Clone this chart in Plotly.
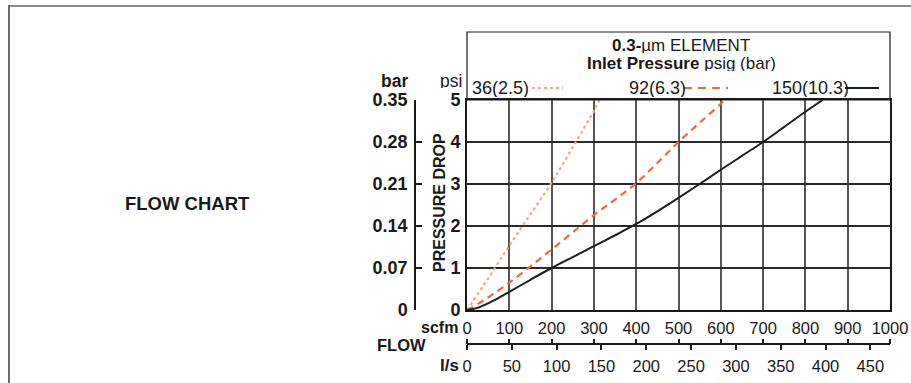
import plotly.graph_objects as go

# ---------------- data ----------------
flow_36 = [0, 50, 100, 150, 200, 250, 300, 313]
dp_36 = [0, 0.75, 1.53, 2.28, 3.03, 3.88, 4.74, 5.0]

flow_92 = [0, 25, 50, 75, 100, 150, 200, 250, 300, 350, 400, 450, 500, 550, 600, 608]
dp_92 = [0, 0.14, 0.30, 0.47, 0.65, 1.04, 1.44, 1.85, 2.26, 2.63, 3.02, 3.50, 4.00, 4.46, 4.91, 5.0]

flow_150 = [0, 25, 50, 75, 100, 150, 200, 250, 300, 350, 400, 450, 500, 550, 600, 650, 700, 750, 800, 841]
dp_150 = [0, 0.05, 0.16, 0.29, 0.43, 0.72, 1.00, 1.26, 1.52, 1.78, 2.05, 2.35, 2.67, 3.00, 3.34, 3.67, 4.00, 4.36, 4.72, 5.0]

series_names = ["36(2.5)", "92(6.3)", "150(10.3)"]

scfm_ticks = [0, 100, 200, 300, 400, 500, 600, 700, 800, 900, 1000]
lps_ticks = [0, 50, 100, 150, 200, 250, 300, 350, 400, 450]
psi_ticks = [0, 1, 2, 3, 4, 5]
bar_ticks = [0, 0.07, 0.14, 0.21, 0.28, 0.35]
bar_labels = ["0", "0.07", "0.14", "0.21", "0.28", "0.35"]

SCFM_PER_LPS = 2.119

# ---------------- layout helpers ----------------
W, H = 911, 383
ML, MR, MT, MB = 380, 21, 100, 30
PW, PH = W - ML - MR, H - MT - MB


def px(x):
    return (x - ML) / PW


def py(y):
    return (H - MB - y) / PH


FONT = "Liberation Sans, Arial, Helvetica, sans-serif"
C36 = "#F5A688"
C92 = "#EE6A3C"
C150 = "#1E1E1E"
TXT = "#1a1a1a"

fig = go.Figure()
fig.add_trace(go.Scatter(x=flow_36, y=dp_36, mode="lines", name=series_names[0],
                         line=dict(color=C36, width=2.2, dash="3px,3px"), line_shape="spline"))
fig.add_trace(go.Scatter(x=flow_92, y=dp_92, mode="lines", name=series_names[1],
                         line=dict(color=C92, width=2.2, dash="7px,5px"), line_shape="spline"))
fig.add_trace(go.Scatter(x=flow_150, y=dp_150, mode="lines", name=series_names[2],
                         line=dict(color=C150, width=2), line_shape="spline"))

xdom = [px(467), 1]
ydom = [py(310), 1]

fig.update_layout(
    width=W, height=H, autosize=False,
    margin=dict(l=ML, r=MR, t=MT, b=MB, pad=0, autoexpand=False),
    paper_bgcolor="white", plot_bgcolor="white",
    showlegend=False, hovermode=False,
    font=dict(family=FONT, size=16, color=TXT),
    xaxis=dict(domain=xdom, range=[0, 1000], tickvals=scfm_ticks, showgrid=True,
               gridcolor="#555555", gridwidth=1.5, zeroline=False, showline=True,
               linecolor=TXT, linewidth=2, mirror=True, ticks="", automargin=False,
               ticklabelstandoff=2, tickfont=dict(size=16.5), anchor="y"),
    yaxis=dict(domain=ydom, range=[0, 5], tickvals=psi_ticks,
               ticktext=[f"<b>{t}</b>" for t in psi_ticks], showgrid=True,
               gridcolor="#2a2a2a", gridwidth=1.5, zeroline=False, showline=True,
               linecolor=TXT, linewidth=2, mirror=True, ticks="", automargin=False,
               ticklabelstandoff=1, tickfont=dict(size=18), anchor="x"),
    yaxis2=dict(domain=ydom, range=[0, 0.35], tickvals=bar_ticks, ticktext=[f"<b>{t}</b>" for t in bar_labels],
                overlaying="y", anchor="free", position=px(415), side="left", automargin=False,
                showline=True, linecolor=TXT, linewidth=1.5, ticks="inside",
                ticklen=6, tickwidth=1.5, tickcolor=TXT, showgrid=False, zeroline=False,
                ticklabelstandoff=3, tickfont=dict(size=18)),
    xaxis2=dict(domain=xdom, range=[0, 1000 / SCFM_PER_LPS], tickvals=lps_ticks,
                overlaying="x", anchor="free", position=py(344), side="bottom", automargin=False,
                showline=True, linecolor=TXT, linewidth=2, ticks="outside",
                ticklen=5, tickwidth=1.5, tickcolor=TXT, showgrid=False, zeroline=False,
                ticklabelstandoff=2, tickfont=dict(size=16.5)),
    xaxis3=dict(domain=xdom, range=[0, 1000], tickvals=scfm_ticks,
                overlaying="x", anchor="free", position=py(344), side="top", automargin=False,
                showline=False, ticks="outside", ticklen=5, tickwidth=1.5,
                tickcolor=TXT, showticklabels=False, showgrid=False, zeroline=False),
)

# invisible traces to activate the extra axes
fig.add_trace(go.Scatter(x=[None], y=[None], xaxis="x2", yaxis="y2", showlegend=False))
fig.add_trace(go.Scatter(x=[None], y=[None], xaxis="x3", yaxis="y", showlegend=False))

shapes = []
# outer frame (top and left)
shapes.append(dict(type="line", xref="paper", yref="paper", x0=px(8), x1=px(911), y0=py(6), y1=py(6),
                   line=dict(color="#8a8a8a", width=2)))
shapes.append(dict(type="line", xref="paper", yref="paper", x0=px(9), x1=px(9), y0=py(5), y1=py(390),
                   line=dict(color="#6a6a6a", width=2)))
# legend box above the grid
shapes.append(dict(type="rect", xref="paper", yref="paper", x0=px(467), x1=1, y0=1, y1=py(32),
                   line=dict(color=TXT, width=1.2)))
# legend samples
shapes.append(dict(type="line", xref="paper", yref="paper", x0=px(532), x1=px(563), y0=py(88), y1=py(88),
                   line=dict(color=C36, width=2.2, dash="3px,3px")))
shapes.append(dict(type="line", xref="paper", yref="paper", x0=px(684), x1=px(728), y0=py(88), y1=py(88),
                   line=dict(color=C92, width=2.2, dash="8px,6px")))
shapes.append(dict(type="line", xref="paper", yref="paper", x0=px(845), x1=px(879), y0=py(88), y1=py(88),
                   line=dict(color=C150, width=2)))
fig.update_layout(shapes=shapes)


def ann(text, x, y, xanchor="center", size=16, angle=0, height=None):
    kw = {}
    if height is not None:
        kw["height"] = height
    fig.add_annotation(text=text, xref="paper", yref="paper", x=px(x), y=py(y),
                       xanchor=xanchor, yanchor="middle", showarrow=False, borderpad=0,
                       font=dict(size=size, family=FONT, color=TXT), textangle=angle, **kw)


ann("<b>FLOW CHART</b>", 187, 203, size=18.5)
ann("<b>0.3-</b>µm ELEMENT", 681, 46, size=17, height=15)
ann("<b>Inlet Pressure</b> psig (bar)", 681, 64, size=17, height=15)
ann(series_names[0], 471, 88, xanchor="left", size=18, height=18)
ann(series_names[1], 628, 88, xanchor="left", size=18, height=18)
ann(series_names[2], 771, 88, xanchor="left", size=18, height=18)
ann("<b>bar</b>", 394, 81, size=17.5, height=14)
ann("psi", 451, 81, size=17.5, height=14)
ann("<b>PRESSURE DROP</b>", 439, 203, size=16, angle=-90)
ann("<b>scfm</b>", 459, 327, xanchor="right", size=16, height=13)
ann("<b>FLOW</b>", 401, 344, size=16.5, height=15)
ann("<b>l/s</b>", 460, 365, xanchor="right", size=17, height=15)

fig.write_html(
    "out.html", config={"displayModeBar": False},
    post_script="document.body.style.margin='0';document.body.style.overflow='hidden';",
)
